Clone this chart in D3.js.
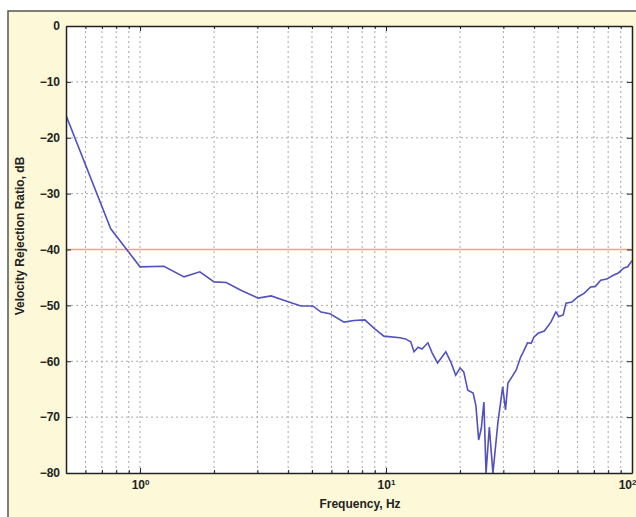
<!DOCTYPE html>
<meta charset="utf-8">
<style>
    body { margin: 0; background: #fff; }
    text {
        font-family: "Liberation Sans", Arial, sans-serif;
        font-weight: bold;
        font-size: 12px;
        fill: #222;
    }
    .grid line {
        stroke: #a8a8a8;
        stroke-width: 1px;
        stroke-dasharray: 2, 3;
    }
    .axis path { stroke: #222; stroke-width: 1.5px; }
    .axis line { stroke: #222; stroke-width: 1px; }
    .curve {
        fill: none;
        stroke: #5151c0;
        stroke-width: 1.6px;
    }
    .limit {
        stroke: #f3a17f;
        stroke-width: 1.3px;
    }
</style>
<body>
    <svg width="636" height="517"></svg>
</body>
<script src="https://d3js.org/d3.v7.min.js"></script>
<script>

    var freq = [0.5, 0.76, 1.0, 1.25, 1.51, 1.75, 2.0, 2.24, 2.57, 3.02, 3.41, 3.92, 4.51, 5.04,
        5.44, 5.92, 6.75, 7.41, 8.2, 9.0, 9.8, 11.4, 12.0, 12.6, 13.0, 13.5, 14.0, 14.8, 15.4,
        16.2, 17.5, 18.4, 19.2, 20.0, 20.7, 21.5, 22.6, 23.2, 23.8, 24.4, 25.0, 25.5, 26.3,
        27.2, 28.5, 29.8, 30.6, 31.3, 32.5, 33.8, 35.3, 36.0, 37.6, 38.9, 39.9, 41.5, 44,
        46.8, 49.0, 50.5, 52.5, 53.9, 57, 60.2, 64, 67.9, 71, 74.6, 79, 83.9, 88, 92.7, 96, 100];
    var ratio = [-16, -36.3, -43.1, -43.0, -44.9, -44.0, -45.8, -45.9, -47.3, -48.7, -48.3, -49.2, -50.1, -50.1,
        -51.2, -51.5, -53.0, -52.7, -52.6, -54.2, -55.5, -55.8, -56.0, -56.5, -58.3, -57.5, -57.8, -56.7, -58.5,
        -60.3, -58.3, -60.3, -62.5, -61.2, -61.9, -65.2, -65.7, -68, -74.1, -72, -67.3, -80, -71.8,
        -80, -71, -64.6, -68.7, -63.9, -62.8, -61.6, -59.2, -58.5, -56.7, -56.8, -55.7, -55.0, -54.6,
        -53.0, -51.2, -52, -51.7, -49.6, -49.4, -48.5, -47.8, -46.7, -46.6, -45.5, -45.3, -44.6, -44.2, -43.3, -43.1, -42];

    var limitDb = -40;
    var yTicks = [0, -10, -20, -30, -40, -50, -60, -70, -80];
    var xMajor = [1, 10, 100];
    var xMinor = [0.5, 0.6, 0.7, 0.8, 0.9, 2, 3, 4, 5, 6, 7, 8, 9, 20, 30, 40, 50, 60, 70, 80, 90];

    var svg = d3.select("svg"),
        width = +svg.attr("width"),
        height = +svg.attr("height");

    var margin = {left: 66, top: 26, right: 4, bottom: 44};
    var pw = width - margin.left - margin.right,
        ph = height - margin.top - margin.bottom;

    // cream figure background with its frame on the top and left
    svg.append("rect")
        .attr("x", 8).attr("y", 11)
        .attr("width", width).attr("height", height)
        .attr("fill", "#fdf8d7")
        .attr("stroke", "#555")
        .attr("stroke-width", 1.5);

    var g = svg.append("g").attr("transform", "translate(" + margin.left + "," + margin.top + ")");

    var x = d3.scaleLog().domain([0.5, 100]).range([0, pw]);
    var y = d3.scaleLinear().domain([-80, 0]).range([ph, 0]);

    g.append("rect").attr("width", pw).attr("height", ph).attr("fill", "#fff");

    var allX = xMinor.concat(xMajor).sort(d3.ascending);

    // dotted grid
    var grid = g.append("g").attr("class", "grid");
    grid.selectAll(".gx").data(allX.filter(function (d) { return d > 0.5 && d < 100; }))
        .enter().append("line")
        .attr("x1", function (d) { return x(d); }).attr("x2", function (d) { return x(d); })
        .attr("y1", 0).attr("y2", ph);
    grid.selectAll(".gy").data(yTicks.filter(function (d) { return d > -80 && d < 0; }))
        .enter().append("line")
        .attr("x1", 0).attr("x2", pw)
        .attr("y1", function (d) { return y(d); }).attr("y2", function (d) { return y(d); });

    // -40 dB limit
    g.append("line").attr("class", "limit")
        .attr("x1", 0).attr("x2", pw)
        .attr("y1", y(limitDb)).attr("y2", y(limitDb));

    // curve
    g.append("clipPath").attr("id", "clip")
        .append("rect").attr("width", pw).attr("height", ph);

    var pts = freq.map(function (f, i) { return [f, ratio[i]]; });
    g.append("path").attr("class", "curve")
        .attr("clip-path", "url(#clip)")
        .attr("d", d3.line().x(function (d) { return x(d[0]); }).y(function (d) { return y(d[1]); })(pts));

    // axes, MATLAB style inward ticks
    function fmtMinus(d) { return d < 0 ? "\u2212" + Math.abs(d) : "" + d; }

    var xAxisB = g.append("g").attr("class", "axis").attr("transform", "translate(0," + ph + ")")
        .call(d3.axisBottom(x).tickValues(allX).tickSizeInner(-5).tickSizeOuter(0).tickPadding(7).tickFormat(""));
    var xAxisT = g.append("g").attr("class", "axis")
        .call(d3.axisTop(x).tickValues(allX).tickSizeInner(-5).tickSizeOuter(0).tickFormat(""));
    [xAxisB, xAxisT].forEach(function (ax) {
        ax.selectAll(".tick").filter(function (d) { return xMajor.indexOf(d) < 0; })
            .select("line").attr("y2", function () { return +d3.select(this).attr("y2") * 0.6; });
    });

    // 10^n labels; the last one sits on the right edge like in the original figure
    xAxisB.selectAll(".tick").filter(function (d) { return xMajor.indexOf(d) >= 0; })
        .select("text")
        .attr("dy", "0.71em")
        .attr("text-anchor", function (d) { return d === 100 ? "end" : "middle"; })
        .attr("x", function (d) { return d === 100 ? 4 : 0; })
        .each(function (d) {
            var t = d3.select(this);
            t.append("tspan").text("10");
            t.append("tspan").attr("dy", "-0.45em").style("font-size", "8px")
                .text(Math.round(Math.log10(d)));
        });

    g.append("g").attr("class", "axis")
        .call(d3.axisLeft(y).tickValues(yTicks).tickSizeInner(-5).tickSizeOuter(0).tickPadding(6).tickFormat(fmtMinus));
    g.append("g").attr("class", "axis").attr("transform", "translate(" + pw + ",0)")
        .call(d3.axisRight(y).tickValues(yTicks).tickSizeInner(-5).tickSizeOuter(0).tickFormat(""));

    g.selectAll(".axis").attr("font-family", null).attr("font-size", null);

    // axis titles
    svg.append("text")
        .attr("x", 360).attr("y", 508)
        .style("text-anchor", "middle")
        .text("Frequency, Hz");

    svg.append("text")
        .attr("transform", "translate(24,236) rotate(-90)")
        .style("text-anchor", "middle")
        .text("Velocity Rejection Ratio, dB");

</script>
